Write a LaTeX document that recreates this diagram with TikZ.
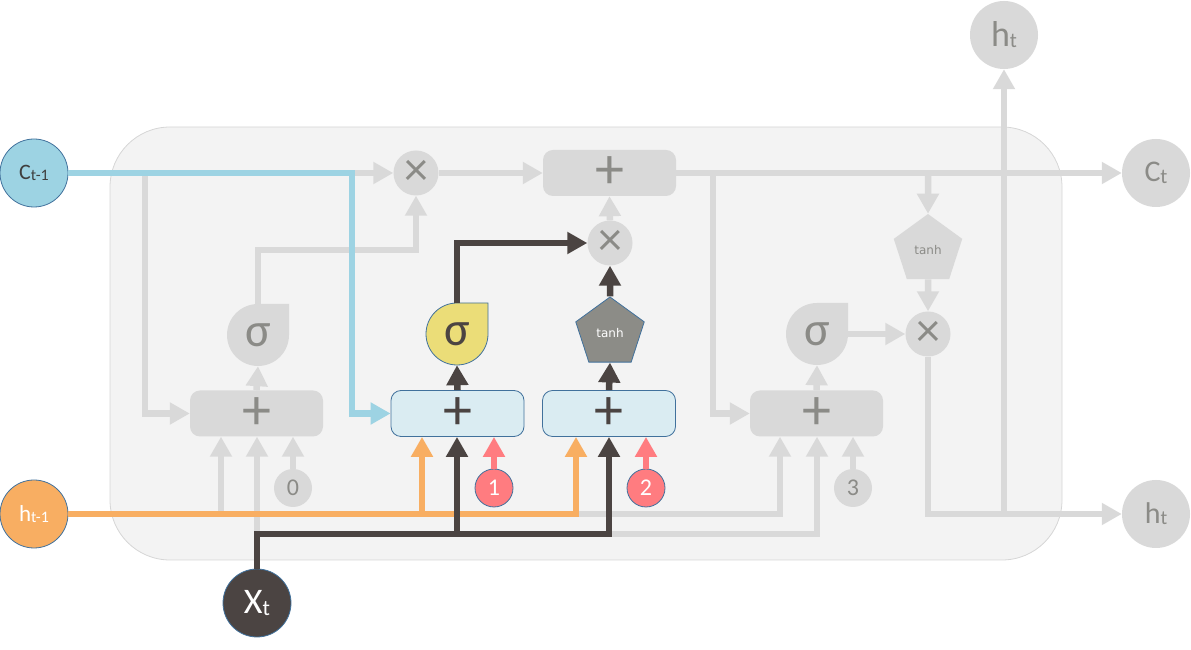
\documentclass[tikz,border=0pt]{standalone}
\usepackage{fontspec}
\setmainfont{Carlito}
\newfontfamily\dejavu{DejaVu Sans}
\usetikzlibrary{arrows.meta,shapes.geometric}
\definecolor{lgray}{HTML}{D9D9D9}
\definecolor{tgray}{HTML}{8B8B87}
\definecolor{bgc}{HTML}{F3F3F3}
\definecolor{bgb}{HTML}{D6D6D6}
\definecolor{cblue}{HTML}{9DD3E3}
\definecolor{corange}{HTML}{F8AE62}
\definecolor{cdark}{HTML}{4B4442}
\definecolor{cpink}{HTML}{FF7C80}
\definecolor{cyellow}{HTML}{EBDD78}
\definecolor{cpent}{HTML}{8C8C87}
\definecolor{bbox}{HTML}{DAECF2}
\definecolor{bord}{HTML}{41719C}
\definecolor{ctext}{HTML}{3F3F3F}
\newcommand{\fs}[1]{\fontsize{#1pt}{#1pt}\selectfont}
\newcommand{\tear}[4]{\path[fill=#3,#4] ({#1+31},#2) -- ({#1+31},{#2+31}) -- (#1,{#2+31}) arc[start angle=90,end angle=360,radius=31] -- cycle;}
\begin{document}
\begin{tikzpicture}[x=1pt,y=1pt,
  ln/.style={line width=6.5pt},
  gl/.style={ln, draw=lgray},
  dl/.style={ln, draw=cdark},
  ol/.style={ln, draw=corange},
  bl/.style={ln, draw=cblue},
  pl/.style={ln, draw=cpink},
  arr/.style={-{Triangle[length=20pt,width=21pt]}},
  big/.style={circle, minimum size=68pt, inner sep=0},
  mul/.style={circle, fill=lgray, minimum size=45pt, inner sep=0, text=tgray, font=\fs{48}},
  gbox/.style={rounded corners=10pt, minimum width=133pt, minimum height=46pt, inner sep=0, fill=lgray, text=tgray, font=\fs{58}},
  bbx/.style={gbox, fill=bbox, draw=bord, line width=0.8pt, text=cdark},
  num/.style={circle, minimum size=38pt, inner sep=0, font=\fs{24}},
  sig/.style={circle, minimum size=62pt, inner sep=0, font=\fs{48}},
  pent/.style={regular polygon, regular polygon sides=5, minimum size=72pt, inner sep=0, font=\dejavu\fs{12}}
]
\useasboundingbox (0,0) rectangle (1191,650);
\draw[bgb, fill=bgc, line width=0.8pt, rounded corners=60pt] (110,90) rectangle (1062,523);

% teardrops
\tear{258}{315}{lgray}{}
\tear{457}{316}{cyellow}{draw=bord,line width=0.8pt}
\tear{817}{316}{lgray}{}

% big circles
\node[big, fill=cblue, draw=bord, line width=0.8pt, text=ctext] (ctm1) at (34,477) {\fs{22}C\raisebox{-1pt}{\fs{16}t-1}};
\node[big, fill=corange, draw=bord, line width=0.8pt, text=white] (htm1) at (34,136) {\fs{23}h\raisebox{-1pt}{\fs{16}t-1}};
\node[big, fill=cdark, draw=bord, line width=0.8pt, text=white] (xt) at (257,47) {\fs{36}X\raisebox{-2pt}{\fs{22}t}};
\node[big, fill=lgray, text=tgray] (htop) at (1004,615) {\fs{36}h\raisebox{-1pt}{\fs{21}t}};
\node[big, fill=lgray, text=tgray] (ct) at (1156,477) {\fs{30}C\raisebox{-2pt}{\fs{21}t}};
\node[big, fill=lgray, text=tgray] (hr) at (1156,136) {\fs{30}h\raisebox{-1pt}{\fs{20}t}};

% operators
\node[mul] (mulf) at (416,477) {×};
\node[mul] (muli) at (610,407) {×};
\node[mul] (mulo) at (928,316) {×};
\node[gbox] (addc) at (609.5,477) {+};
\node[gbox] (boxf) at (256.5,236.5) {+};
\node[bbx] (boxi) at (457.5,236.5) {+};
\node[bbx] (boxc) at (609,236.5) {+};
\node[gbox] (boxo) at (816.5,236.5) {+};
\node[sig, text=tgray] (sigf) at (258,315) {σ};
\node[sig, text=cdark] (sigi) at (457,316) {σ};
\node[sig, text=tgray] (sigo) at (817,316) {σ};
\node[pent, fill=cpent, draw=bord, line width=0.8pt, text=white] (tanhc) at (610,317) {tanh};
\node[pent, fill=lgray, text=tgray] (tanho) at (928,400) {tanh};
\node[num, fill=lgray, text=tgray] (n0) at (293,162) {0};
\node[num, fill=cpink, draw=bord, line width=0.8pt, text=white] (n1) at (494,162) {1};
\node[num, fill=cpink, draw=bord, line width=0.8pt, text=white] (n2) at (646,162) {2};
\node[num, fill=lgray, text=tgray] (n3) at (853,162) {3};

% junctions
\coordinate (jc1) at (145,477);
\coordinate (jc2) at (352,477);
\coordinate (ja) at (713,477);
\coordinate (jt) at (928,477);
\coordinate (jh) at (1004,136);
\coordinate (o1) at (221,136);
\coordinate (o2) at (422,136);
\coordinate (o3) at (576,136);
\coordinate (o4) at (780,136);
\coordinate (d1) at (257,116);
\coordinate (d2) at (457,116);
\coordinate (d3) at (609,116);
\coordinate (d4) at (817,116);

% gray connectors
\draw[gl,arr] (jc1) |- (boxf.west);
\draw[gl,arr] (jc2) -- (mulf.west);
\draw[gl,arr] (mulf.east) -- (addc.west);
\draw[gl,arr] (sigf.north) -- ++(0,54) -| (mulf.south);
\draw[gl,arr] (boxf.north) -- (sigf.south);
\draw[gl,arr] (muli.north) -- (addc.south);
\draw[gl,arr] (addc.east) -- (ct.west);
\draw[gl,arr] (ja) |- (boxo.west);
\draw[gl,arr] (jt) -- (tanho.north);
\draw[gl,arr] (tanho.south) -- (mulo.north);
\draw[gl,arr] (boxo.north) -- (sigo.south);
\draw[gl,arr] (sigo.east) -- (mulo.west);
\draw[gl,arr] (mulo.south) |- (hr.west);
\draw[gl,arr] (jh) -- (htop.south);
\draw[gl,arr] (n0.north) -- (n0.north |- boxf.south);
\draw[gl,arr] (n3.north) -- (n3.north |- boxo.south);
\draw[gl,arr] (o1) -- (o1 |- boxf.south);
\draw[gl,arr] (d1) -- (d1 |- boxf.south);
\draw[gl,arr] (o3) -| (o4 |- boxo.south);
\draw[gl,arr] (d3) -| (d4 |- boxo.south);

% orange
\draw[ol,arr] (htm1.east) -| (o3 |- boxc.south);
\draw[ol,arr] (o2) -- (o2 |- boxi.south);

% blue
\draw[bl,arr] (ctm1.east) -| (jc2 |- boxi.west) -- (boxi.west);

% dark
\draw[dl,arr] (xt.north) |- (d3) -- (d3 |- boxc.south);
\draw[dl,arr] (d2) -- (d2 |- boxi.south);
\draw[dl,arr] (boxi.north) -- (sigi.south);
\draw[dl,arr] (boxc.north) -- (tanhc.south);
\draw[dl,arr] (tanhc.north) -- (muli.south);
\draw[dl,arr] (sigi.north) |- (muli.west);

% pink
\draw[pl,arr] (n1.north) -- (n1.north |- boxi.south);
\draw[pl,arr] (n2.north) -- (n2.north |- boxc.south);
\end{tikzpicture}
\end{document}
